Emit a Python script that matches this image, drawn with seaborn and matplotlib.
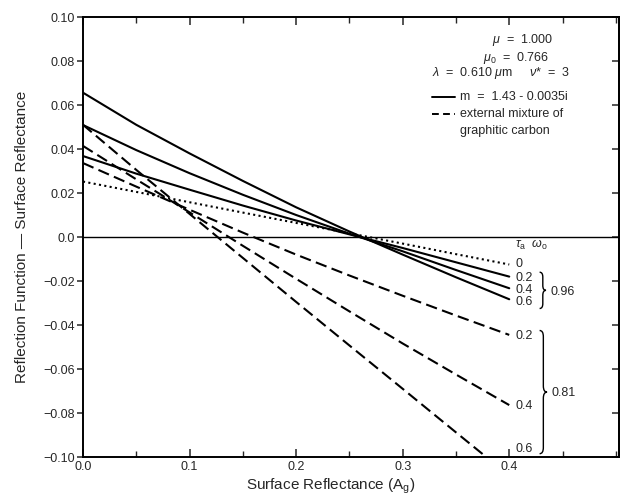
import numpy as np
import pandas as pd
import matplotlib
matplotlib.use("Agg")
import matplotlib.pyplot as plt
import matplotlib.ticker as ticker
from matplotlib.path import Path
from matplotlib.patches import PathPatch
import seaborn as sns

# Data

surface_reflectance = [0.0, 0.05, 0.10, 0.15, 0.20, 0.25, 0.30, 0.35, 0.40]

# solid, m = 1.43 - 0.0035i (omega_o = 0.96); dotted tau = 0
tau0_clear = [0.0252, 0.0205, 0.0158, 0.0111, 0.0064, 0.0017, -0.0030, -0.0078, -0.0125]
solid_tau02 = [0.0368, 0.0288, 0.0215, 0.0143, 0.0075, 0.0012, -0.0050, -0.0115, -0.0180]
solid_tau04 = [0.0509, 0.0395, 0.0290, 0.0192, 0.0100, 0.0015, -0.0065, -0.0150, -0.0233]
solid_tau06 = [0.0656, 0.0510, 0.0380, 0.0255, 0.0135, 0.0025, -0.0080, -0.0183, -0.0283]

# dashed, external mixture of graphitic carbon (omega_o = 0.81)
dashed_tau02 = [0.0336, 0.0229, 0.0124, 0.0020, -0.0080, -0.0175, -0.0267, -0.0357, -0.0445]
dashed_tau04 = [0.0414, 0.0262, 0.0112, -0.0040, -0.0190, -0.0338, -0.0484, -0.0625, -0.0764]
dashed_tau06 = [0.0510, 0.0305, 0.0105, -0.0095, -0.0295, -0.0493, -0.0690, -0.0888, -0.1085]

tau_labels = ["0", "0.2", "0.4", "0.6", "0.2", "0.4", "0.6"]
tau_label_y = [-0.0123, -0.0186, -0.0240, -0.0295, -0.0450, -0.0768, -0.0964]

y_ticks = [0.10, 0.08, 0.06, 0.04, 0.02, 0.0, -0.02, -0.04, -0.06, -0.08, -0.10]
y_tick_labels = ["0.10", "0.08", "0.06", "0.04", "0.02", "0.0",
                 "\u22120.02", "\u22120.04", "\u22120.06", "\u22120.08", "\u22120.10"]
x_ticks = [0.0, 0.1, 0.2, 0.3, 0.4]
x_tick_labels = ["0.0", "0.1", "0.2", "0.3", "0.4"]


sns.set_style("ticks")
plt.rcParams["font.family"] = ["Liberation Sans", "DejaVu Sans"]
plt.rcParams["mathtext.fontset"] = "custom"
plt.rcParams["mathtext.rm"] = "Liberation Sans"
plt.rcParams["mathtext.it"] = "Liberation Sans:italic"

DOTTED = (0, (1, 1.6))
DASHED = (0, (5.5, 2.6))

curves = [
    (tau0_clear, DOTTED),
    (solid_tau02, "-"),
    (solid_tau04, "-"),
    (solid_tau06, "-"),
    (dashed_tau02, DASHED),
    (dashed_tau04, DASHED),
    (dashed_tau06, DASHED),
]

fig = plt.figure(figsize=(6.2, 5.01), dpi=100)
ax = fig.add_axes([83 / 620, 1 - 457 / 501, 536 / 620, 440 / 501])

for values, ls in curves:
    df = pd.DataFrame({"Ag": surface_reflectance, "diff": values})
    sns.lineplot(data=df, x="Ag", y="diff", ax=ax, color="black",
                 linestyle=ls, linewidth=1.5)

ax.axhline(0.0, color="black", linewidth=1.0)

ax.set_xlim(0, 0.503)
ax.set_ylim(-0.10, 0.10)

ax.set_xticks(x_ticks)
ax.set_xticklabels(x_tick_labels)
ax.xaxis.set_minor_locator(ticker.MultipleLocator(0.05))
ax.set_yticks(y_ticks)
ax.set_yticklabels(y_tick_labels)

ax.tick_params(axis="x", which="major", direction="in", length=6, width=1.1,
               top=True, labelsize=9, pad=3)
ax.tick_params(axis="x", which="minor", direction="in", length=4, width=1.0, top=True)
ax.tick_params(axis="y", which="major", direction="out", length=4, width=1.1,
               labelsize=9, pad=2)

# inward ticks on the right-hand side, no labels
right = ax.secondary_yaxis("right")
right.set_yticks(y_ticks)
right.set_yticklabels([])
right.tick_params(direction="in", length=5, width=1.1)
right.spines["right"].set_linewidth(1.4)

for s in ax.spines.values():
    s.set_linewidth(1.4)
    s.set_color("black")

ax.set_xlabel(r"Surface Reflectance (A$_{\rm g}$)", fontsize=11)
ax.xaxis.set_label_coords(0.463, -0.045)
ax.set_ylabel("Reflection Function \u2014 Surface Reflectance", fontsize=11)
ax.yaxis.set_label_coords(-0.10, 0.5)

# tau / omega labels at the right-hand curve ends
ax.text(0.4056, -0.0035, r"$\tau_{\rm a}$  $\omega_{\rm o}$", fontsize=9,
        ha="left", va="center")
for lab, yv in zip(tau_labels, tau_label_y):
    ax.text(0.4056, yv, lab, fontsize=9, ha="left", va="center")


def brace(x0, width, ya, yb, r):
    xm = x0 + width / 2
    ym = (ya + yb) / 2
    verts = [(x0, yb), (xm, yb), (xm, yb - r),
             (xm, ym + r), (xm, ym), (x0 + width, ym),
             (xm, ym), (xm, ym - r),
             (xm, ya + r), (xm, ya), (x0, ya)]
    codes = [Path.MOVETO, Path.CURVE3, Path.CURVE3,
             Path.LINETO, Path.CURVE3, Path.CURVE3,
             Path.CURVE3, Path.CURVE3,
             Path.LINETO, Path.CURVE3, Path.CURVE3]
    ax.add_patch(PathPatch(Path(verts, codes), fill=False, lw=1.0, color="black"))


brace(0.4285, 0.0060, -0.0325, -0.0160, 0.0022)
brace(0.4285, 0.0070, -0.0985, -0.0425, 0.0028)
ax.text(0.4385, -0.0250, "0.96", fontsize=9, ha="left", va="center")
ax.text(0.4395, -0.0710, "0.81", fontsize=9, ha="left", va="center")

# parameter block and legend, upper right
ax.text(0.763, 0.948, r"$\mu$  =  1.000", transform=ax.transAxes, fontsize=9,
        ha="left", va="center")
ax.text(0.746, 0.907, r"$\mu_0$  =  0.766", transform=ax.transAxes, fontsize=9,
        ha="left", va="center")
ax.text(0.651, 0.873, r"$\lambda$  =  0.610 $\mu$m     $\nu$*  =  3",
        transform=ax.transAxes, fontsize=9, ha="left", va="center")
ax.plot([0.651, 0.694], [0.818, 0.818], transform=ax.transAxes, color="black",
        linewidth=1.4, linestyle="-")
ax.text(0.703, 0.818, "m  =  1.43 - 0.0035i", transform=ax.transAxes,
        fontsize=9, ha="left", va="center")
ax.plot([0.651, 0.694], [0.780, 0.780], transform=ax.transAxes, color="black",
        linewidth=1.4, linestyle=(0, (3.5, 2.2)))
ax.text(0.703, 0.780, "external mixture of", transform=ax.transAxes,
        fontsize=9, ha="left", va="center")
ax.text(0.703, 0.741, "graphitic carbon", transform=ax.transAxes,
        fontsize=9, ha="left", va="center")

fig.savefig("out.png", dpi=100)
